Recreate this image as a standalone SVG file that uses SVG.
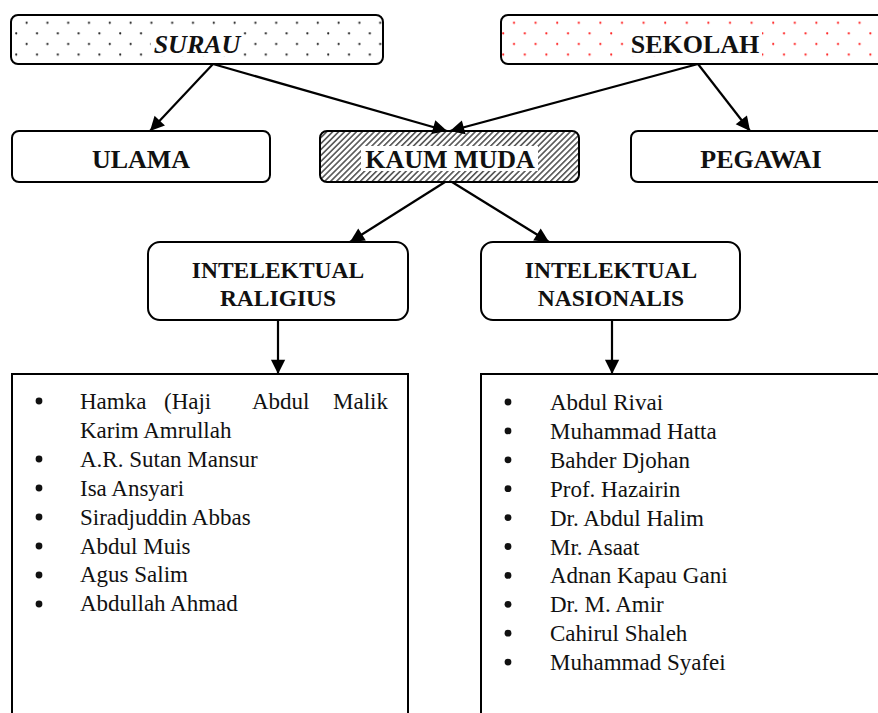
<svg xmlns="http://www.w3.org/2000/svg" width="878" height="713" viewBox="0 0 878 713">
<style>
.box{fill:none;stroke:#000;stroke-width:2}
.h{font-family:"Liberation Serif","Times New Roman",serif;font-weight:bold;text-anchor:middle;fill:#111}
.h1{font-size:26px}
.h2{font-size:23.5px}
.li{font-family:"Liberation Serif","Times New Roman",serif;font-size:23px;fill:#111}
.con{stroke:#000;stroke-width:2.2;fill:none;marker-end:url(#ah)}
.bg{fill:#fff}
</style>
<defs>
<marker id="ah" viewBox="0 0 10 10" refX="10" refY="5" markerWidth="7.5" markerHeight="7.5" markerUnits="userSpaceOnUse" orient="auto" overflow="visible">
<path d="M0,0 L10,5 L0,10 z" fill="#000" transform="scale(1.9) translate(-4.7,-2.4)"/>
</marker>
<pattern id="dotsK" width="20.8" height="21.2" patternUnits="userSpaceOnUse" x="15" y="11">
<circle cx="1.2" cy="1.2" r="1.1" fill="#222"/>
<circle cx="11.6" cy="11.8" r="1.1" fill="#222"/>
</pattern>
<pattern id="dotsR" width="21.6" height="21.2" patternUnits="userSpaceOnUse" x="502" y="11">
<circle cx="1.2" cy="1.2" r="1.1" fill="#f22"/>
<circle cx="12" cy="11.8" r="1.1" fill="#f22"/>
</pattern>
<pattern id="hatch" width="4.2" height="4.2" patternUnits="userSpaceOnUse" patternTransform="rotate(45)">
<rect x="0" y="0" width="1.6" height="4.2" fill="#555"/>
</pattern>
</defs>

<g id="surau">
<rect x="11" y="15" width="372" height="49" rx="7" fill="url(#dotsK)" stroke="#000" stroke-width="2"/>
<rect class="bg" x="151" y="32" width="91" height="24"/>
<text class="h h1" x="197" y="53" font-style="italic">SURAU</text>
</g>

<g id="sekolah">
<rect x="501" y="15" width="388" height="49" rx="7" fill="url(#dotsR)" stroke="#000" stroke-width="2"/>
<rect class="bg" x="628" y="32" width="134" height="24"/>
<text class="h h1" x="695" y="53">SEKOLAH</text>
</g>

<g id="ulama">
<rect class="box" x="12" y="131" width="258" height="51" rx="7"/>
<text class="h h1" x="141" y="168">ULAMA</text>
</g>

<g id="kaummuda">
<rect x="320" y="131" width="259" height="51" rx="7" fill="url(#hatch)" stroke="#000" stroke-width="2"/>
<rect class="bg" x="361" y="146" width="177" height="25"/>
<text class="h h1" x="450" y="168">KAUM MUDA</text>
</g>

<g id="pegawai">
<rect class="box" x="631" y="131" width="260" height="51" rx="7"/>
<text class="h h1" x="761" y="168">PEGAWAI</text>
</g>

<g id="raligius">
<rect class="box" x="148" y="242" width="260" height="78" rx="12"/>
<text class="h h2" x="278" y="278">INTELEKTUAL</text>
<text class="h h2" x="278" y="306">RALIGIUS</text>
</g>

<g id="nasionalis">
<rect class="box" x="481" y="242" width="259" height="78" rx="12"/>
<text class="h h2" x="611" y="278">INTELEKTUAL</text>
<text class="h h2" x="611" y="306">NASIONALIS</text>
</g>

<g id="list-raligius">
<path d="M12,720 V374 H408 V720" fill="none" stroke="#000" stroke-width="2"/>
<g fill="#111">
<circle cx="39" cy="401" r="3.4"/>
<circle cx="39" cy="459" r="3.4"/>
<circle cx="39" cy="488" r="3.4"/>
<circle cx="39" cy="517" r="3.4"/>
<circle cx="39" cy="546" r="3.4"/>
<circle cx="39" cy="575" r="3.4"/>
<circle cx="39" cy="604" r="3.4"/>
</g>
<text class="li" x="80" y="409">Hamka</text>
<text class="li" x="164" y="409">(Haji</text>
<text class="li" x="252" y="409">Abdul</text>
<text class="li" x="388" y="409" text-anchor="end">Malik</text>
<text class="li" x="80" y="437.9">Karim Amrullah</text>
<text class="li" x="80" y="466.8">A.R. Sutan Mansur</text>
<text class="li" x="80" y="495.7">Isa Ansyari</text>
<text class="li" x="80" y="524.6">Siradjuddin Abbas</text>
<text class="li" x="80" y="553.5">Abdul Muis</text>
<text class="li" x="80" y="582.4">Agus Salim</text>
<text class="li" x="80" y="611.3">Abdullah Ahmad</text>
</g>

<g id="list-nasionalis">
<path d="M481,720 V374 H890" fill="none" stroke="#000" stroke-width="2"/>
<g fill="#111">
<circle cx="508" cy="402" r="3.4"/>
<circle cx="508" cy="430.9" r="3.4"/>
<circle cx="508" cy="459.8" r="3.4"/>
<circle cx="508" cy="488.7" r="3.4"/>
<circle cx="508" cy="517.6" r="3.4"/>
<circle cx="508" cy="546.5" r="3.4"/>
<circle cx="508" cy="575.4" r="3.4"/>
<circle cx="508" cy="604.3" r="3.4"/>
<circle cx="508" cy="633.2" r="3.4"/>
<circle cx="508" cy="662.1" r="3.4"/>
</g>
<text class="li" x="550" y="410">Abdul Rivai</text>
<text class="li" x="550" y="438.9">Muhammad Hatta</text>
<text class="li" x="550" y="467.8">Bahder Djohan</text>
<text class="li" x="550" y="496.7">Prof. Hazairin</text>
<text class="li" x="550" y="525.6">Dr. Abdul Halim</text>
<text class="li" x="550" y="554.5">Mr. Asaat</text>
<text class="li" x="550" y="583.4">Adnan Kapau Gani</text>
<text class="li" x="550" y="612.3">Dr. M. Amir</text>
<text class="li" x="550" y="641.2">Cahirul Shaleh</text>
<text class="li" x="550" y="670.1">Muhammad Syafei</text>
</g>

<g id="connectors">
<line class="con" x1="213" y1="64" x2="150" y2="131"/>
<line class="con" x1="213" y1="64" x2="447" y2="131"/>
<line class="con" x1="698" y1="64" x2="450" y2="131"/>
<line class="con" x1="698" y1="64" x2="750" y2="131"/>
<line class="con" x1="445" y1="182" x2="350" y2="242"/>
<line class="con" x1="452" y1="182" x2="549" y2="242"/>
<line class="con" x1="278" y1="320" x2="278" y2="374"/>
<line class="con" x1="612" y1="320" x2="612" y2="374"/>
</g>
</svg>
